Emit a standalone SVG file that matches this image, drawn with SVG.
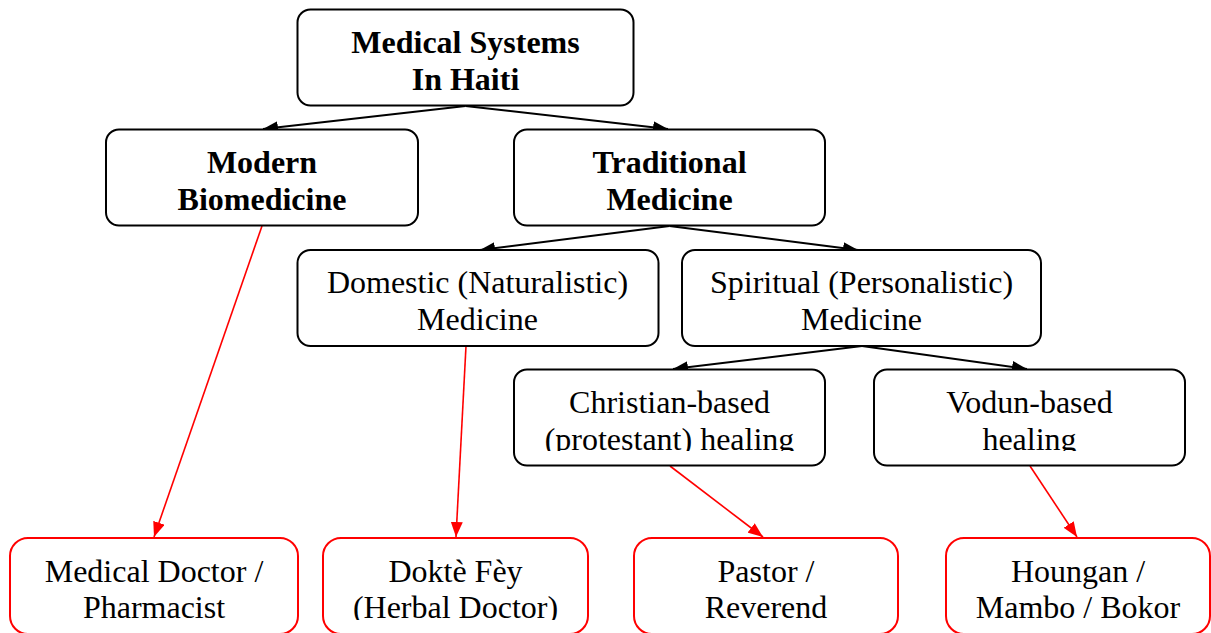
<svg xmlns="http://www.w3.org/2000/svg" width="1211" height="633" viewBox="0 0 1211 633">
<style>
.box{fill:#fff;stroke:#000;stroke-width:2}
.rbox{fill:#fff;stroke:#ff0000;stroke-width:2}
.t{font-family:"Liberation Serif","Times New Roman",serif;font-size:32px;fill:#000;text-anchor:middle}
.b{font-weight:bold}
.k{stroke:#000;stroke-width:2;fill:none}
.r{stroke:#ff0000;stroke-width:1.6;fill:none}
</style>
<defs>
<marker id="ak" markerUnits="userSpaceOnUse" markerWidth="15" markerHeight="12" refX="15" refY="6" orient="auto">
<path d="M0,0 L15,6 L0,12 z" fill="#000"/>
</marker>
<marker id="ar" markerUnits="userSpaceOnUse" markerWidth="15" markerHeight="12" refX="15" refY="6" orient="auto">
<path d="M0,0 L15,6 L0,12 z" fill="#ff0000"/>
</marker>
<clipPath id="c1"><rect x="0" y="0" width="1211" height="451"/></clipPath>
<clipPath id="c2"><rect x="0" y="0" width="1211" height="620"/></clipPath>
</defs>

<g id="connectors">
<line class="k" x1="465.5" y1="106" x2="263" y2="129" marker-end="url(#ak)"/>
<line class="k" x1="465.5" y1="106" x2="668" y2="129" marker-end="url(#ak)"/>
<line class="k" x1="669.5" y1="226" x2="480" y2="250" marker-end="url(#ak)"/>
<line class="k" x1="669.5" y1="226" x2="858" y2="250" marker-end="url(#ak)"/>
<line class="k" x1="862" y1="346" x2="673" y2="369" marker-end="url(#ak)"/>
<line class="k" x1="862" y1="346" x2="1027" y2="369" marker-end="url(#ak)"/>
<line class="r" x1="262" y1="226" x2="154" y2="537" marker-end="url(#ar)"/>
<line class="r" x1="466" y1="346" x2="456" y2="537" marker-end="url(#ar)"/>
<line class="r" x1="670" y1="466" x2="763" y2="537" marker-end="url(#ar)"/>
<line class="r" x1="1030" y1="466" x2="1077" y2="537" marker-end="url(#ar)"/>
</g>

<g id="n-root">
<rect class="box" x="297.5" y="9.5" width="336" height="96" rx="13"/>
<text class="t b" x="465.5" y="53">Medical Systems</text>
<text class="t b" x="465.5" y="90">In Haiti</text>
</g>
<g id="n-modern">
<rect class="box" x="106" y="129.5" width="312" height="96" rx="13"/>
<text class="t b" x="262" y="173">Modern</text>
<text class="t b" x="262" y="210">Biomedicine</text>
</g>
<g id="n-traditional">
<rect class="box" x="514" y="129.5" width="311" height="96" rx="13"/>
<text class="t b" x="669.5" y="173">Traditional</text>
<text class="t b" x="669.5" y="210">Medicine</text>
</g>
<g id="n-domestic">
<rect class="box" x="297.5" y="250" width="361" height="96" rx="13"/>
<text class="t" x="477.5" y="293">Domestic (Naturalistic)</text>
<text class="t" x="477.5" y="330">Medicine</text>
</g>
<g id="n-spiritual">
<rect class="box" x="682" y="250" width="359" height="96" rx="13"/>
<text class="t" x="861.5" y="293">Spiritual (Personalistic)</text>
<text class="t" x="861.5" y="330">Medicine</text>
</g>
<g id="n-christian">
<rect class="box" x="514" y="369.5" width="311" height="96" rx="13"/>
<g clip-path="url(#c1)">
<text class="t" x="669.5" y="413">Christian-based</text>
<text class="t" x="669.5" y="450">(protestant) healing</text>
</g>
</g>
<g id="n-vodun">
<rect class="box" x="874" y="369.5" width="311" height="96" rx="13"/>
<g clip-path="url(#c1)">
<text class="t" x="1029.5" y="413">Vodun-based</text>
<text class="t" x="1029.5" y="450">healing</text>
</g>
</g>
<g id="n-doctor">
<rect class="rbox" x="10" y="538" width="288" height="96" rx="18"/>
<g clip-path="url(#c2)">
<text class="t" x="154" y="582">Medical Doctor /</text>
<text class="t" x="154" y="618">Pharmacist</text>
</g>
</g>
<g id="n-dokte">
<rect class="rbox" x="323" y="538" width="265" height="96" rx="18"/>
<g clip-path="url(#c2)">
<text class="t" x="455.5" y="582">Doktè Fèy</text>
<text class="t" x="455.5" y="618">(Herbal Doctor)</text>
</g>
</g>
<g id="n-pastor">
<rect class="rbox" x="634" y="538" width="264" height="96" rx="18"/>
<g clip-path="url(#c2)">
<text class="t" x="766" y="582">Pastor /</text>
<text class="t" x="766" y="618">Reverend</text>
</g>
</g>
<g id="n-houngan">
<rect class="rbox" x="946" y="538" width="264" height="96" rx="18"/>
<g clip-path="url(#c2)">
<text class="t" x="1078" y="582">Houngan /</text>
<text class="t" x="1078" y="618">Mambo / Bokor</text>
</g>
</g>
</svg>
